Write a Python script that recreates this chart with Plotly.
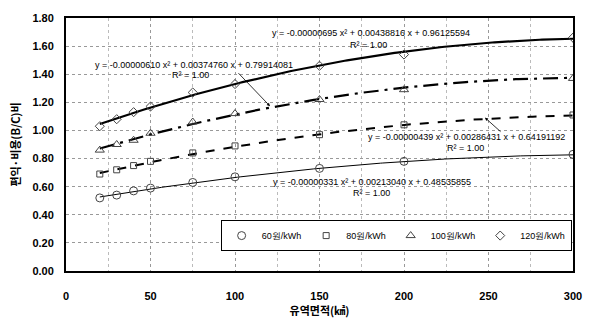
import numpy as np
import plotly.graph_objects as go

area = [20, 30, 40, 50, 75, 100, 150, 200, 300]
bc_60 = [0.52, 0.54, 0.57, 0.59, 0.63, 0.67, 0.73, 0.78, 0.83]
bc_80 = [0.69, 0.72, 0.75, 0.78, 0.84, 0.89, 0.97, 1.04, 1.11]
bc_100 = [0.86, 0.90, 0.93, 0.98, 1.06, 1.12, 1.22, 1.29, 1.37]
bc_120 = [1.03, 1.08, 1.13, 1.17, 1.27, 1.33, 1.46, 1.54, 1.66]

coef_60 = [-0.00000331, 0.00213040, 0.48535855]
coef_80 = [-0.00000439, 0.00286431, 0.64191192]
coef_100 = [-0.00000610, 0.00374760, 0.79914081]
coef_120 = [-0.00000695, 0.00438816, 0.96125594]

names = ["60원/kWh", "80원/kWh", "100원/kWh", "120원/kWh"]
eq_texts = [
    "y = -0.00000331 x² + 0.00213040 x + 0.48535855",
    "y = -0.00000439 x² + 0.00286431 x + 0.64191192",
    "y = -0.00000610 x² + 0.00374760 x + 0.79914081",
    "y = -0.00000695 x² + 0.00438816 x + 0.96125594",
]
r2_text = "R² = 1.00"

series = [bc_60, bc_80, bc_100, bc_120]
coefs = [coef_60, coef_80, coef_100, coef_120]
symbols = ["circle-open", "square-open", "triangle-up-open", "diamond-open"]
msizes = [8, 6, 8, 7]
lstyles = [dict(width=1, dash="solid"), dict(width=2, dash="dash"),
           dict(width=2.2, dash="longdashdot"), dict(width=2.2, dash="solid")]

fig = go.Figure()
xs = np.linspace(min(area), max(area), 200)
for s, c, ls in zip(series, coefs, lstyles):
    fig.add_trace(go.Scatter(x=xs, y=np.polyval(c, xs), mode="lines",
                             line=dict(color="black", **ls), showlegend=False,
                             hoverinfo="skip"))
for s, n, sym, ms in zip(series, names, symbols, msizes):
    fig.add_trace(go.Scatter(x=area, y=s, mode="markers", name=n,
                             marker=dict(symbol=sym, size=ms, color="#444",
                                         line=dict(width=1, color="#444"))))

afont = dict(family="Liberation Sans, Arial", size=9, color="black")
# (equation x, equation y, R² x, R² y) in data units
eq_pos = [
    (180.8, 0.634, 181.0, 0.552),
    (236.7, 0.955, 236.1, 0.873),
    (75.7, 1.466, 73.4, 1.398),
    (180.5, 1.691, 178.7, 1.609),
]
for t, (ex, ey, rx, ry) in zip(eq_texts, eq_pos):
    fig.add_annotation(x=ex, y=ey, xref="x", yref="y", text=t,
                       showarrow=False, font=afont, xanchor="center", yanchor="middle")
    fig.add_annotation(x=rx, y=ry, xref="x", yref="y", text=r2_text,
                       showarrow=False, font=afont, xanchor="center", yanchor="middle")
# leader arrows
fig.add_annotation(x=120.7, y=1.173, ax=101.2, ay=1.418, xref="x", yref="y",
                   axref="x", ayref="y", text="", showarrow=True,
                   arrowhead=2, arrowsize=0.8, arrowwidth=0.8, arrowcolor="black")
fig.add_annotation(x=247.9, y=1.091, ax=258.0, ay=0.982, xref="x", yref="y",
                   axref="x", ayref="y", text="", showarrow=True,
                   arrowhead=2, arrowsize=0.8, arrowwidth=0.8, arrowcolor="black")

fig.update_layout(
    width=597, height=324,
    margin=dict(l=66, r=24, t=16, b=44),
    paper_bgcolor="white", plot_bgcolor="white",
    showlegend=True,
    legend=dict(orientation="h", x=0.305, y=0.14, xanchor="left", yanchor="middle",
                bgcolor="white", bordercolor="black", borderwidth=1,
                font=dict(family="Liberation Sans, Arial", size=9, color="black"),
                itemwidth=30, tracegroupgap=0),
    xaxis=dict(range=[0, 300], tickvals=[0, 50, 100, 150, 200, 250, 300],
               ticks="", ticklabelstandoff=14,
               tickfont=dict(family="Liberation Sans, Arial", size=11, color="black", weight="bold"),
               showgrid=True, gridcolor="#999", griddash="dot", gridwidth=1,
               minor=dict(dtick=25, showgrid=True, gridcolor="#bbb", griddash="dot"),
               showline=True, linecolor="black", linewidth=2, mirror=True,
               zeroline=False,
               title=dict(text="<b>유역면적(㎢)</b>", standoff=2,
                          font=dict(family="Noto Sans CJK KR", size=11, color="black"))),
    yaxis=dict(range=[0, 1.8], dtick=0.2, tickformat=".2f", ticks="",
               ticklabelstandoff=8,
               tickfont=dict(family="Liberation Sans, Arial", size=11, color="black", weight="bold"),
               showgrid=True, gridcolor="#999", griddash="dot", gridwidth=1,
               showline=True, linecolor="black", linewidth=2, mirror=True,
               zeroline=False,
               title=dict(text="<b>편익·비용(B/C)비</b>", standoff=10,
                          font=dict(family="Noto Sans CJK KR", size=11, color="black"))),
)

fig.write_html("out.html")
